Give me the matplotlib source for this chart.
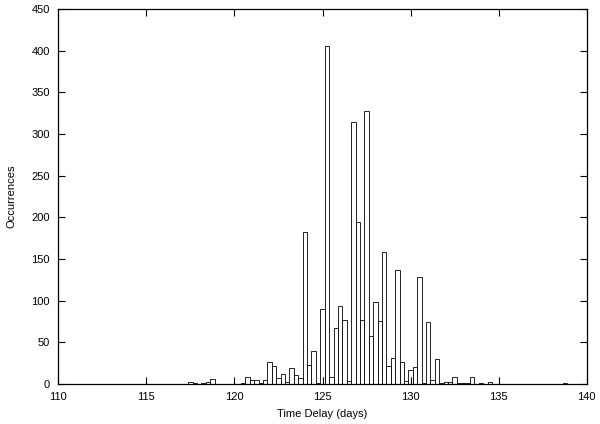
import matplotlib
matplotlib.use('Agg')
import matplotlib.pyplot as plt

# histogram of time delays, bins 0.25 days wide (bin centres)
delays = [117.5, 117.75, 118.25, 118.5, 118.75,
          120.5, 120.75, 121.0, 121.25, 121.5, 121.75,
          122.0, 122.25, 122.5, 122.75, 123.0, 123.25, 123.5, 123.75,
          124.0, 124.25, 124.5, 124.75, 125.0, 125.25, 125.5, 125.75,
          126.0, 126.25, 126.5, 126.75, 127.0, 127.25, 127.5, 127.75,
          128.0, 128.25, 128.5, 128.75, 129.0, 129.25, 129.5, 129.75,
          130.0, 130.25, 130.5, 130.75, 131.0, 131.25, 131.5, 131.75,
          132.0, 132.25, 132.5, 132.75, 133.0, 133.25, 133.5,
          134.0, 134.5, 138.75]
counts = [2, 1, 1, 2, 6,
          1, 9, 5, 5, 1, 5,
          27, 22, 7, 12, 2, 19, 11, 7,
          182, 23, 40, 1, 90, 406, 9, 67,
          94, 77, 4, 314, 194, 77, 327, 58,
          99, 76, 158, 22, 31, 137, 26, 4,
          17, 21, 128, 1, 75, 5, 30, 1,
          2, 2, 8, 1, 1, 1, 9,
          1, 3, 1]

plt.rcParams['font.family'] = ['Liberation Sans', 'DejaVu Sans']

fig = plt.figure(figsize=(6, 4.24), dpi=100)
ax = fig.add_axes([0.097, 0.0943, 0.881, 0.8845])

ax.bar(delays, counts, width=0.25, facecolor='white', edgecolor='black',
       linewidth=0.6)

ax.set_xlim(110, 140)
ax.set_ylim(0, 450)
ax.set_xticks(range(110, 141, 5))
ax.set_yticks(range(0, 451, 50))
ax.tick_params(direction='in', top=True, right=True, length=5, width=0.8,
               labelsize=8, pad=6)
for s in ax.spines.values():
    s.set_linewidth(0.9)

ax.set_xlabel('Time Delay (days)', fontsize=8, labelpad=5)
ax.set_ylabel('Occurrences', fontsize=8, labelpad=11)

fig.savefig('out.png', dpi=100)
